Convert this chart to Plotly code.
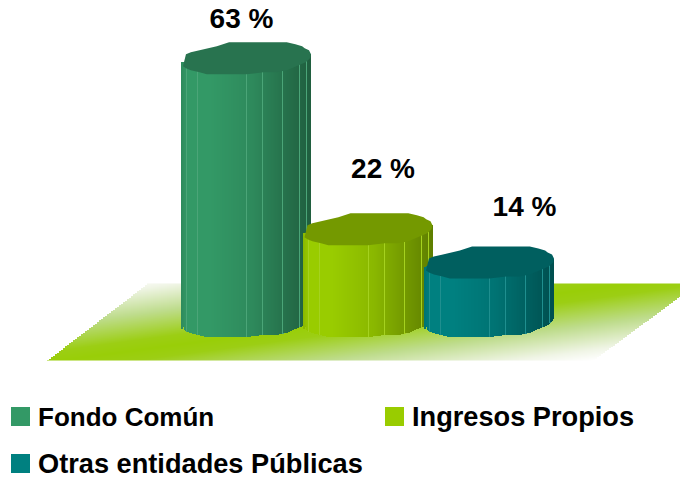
import numpy as np
import plotly.graph_objects as go

# ---- data ----
categories = ["Fondo Común", "Ingresos Propios", "Otras entidades Públicas"]
values = [63, 22, 14]
value_labels = ["63 %", "22 %", "14 %"]

# ---- styles ----
swatch_colors = ["#339966", "#99CC00", "#008080"]
cap_colors = ["#28734F", "#749900", "#005F5F"]
label_dx = [-5, 15, 35]
label_dy = [37, 58, 54]
legend_xy = [(11, 416.5), (385, 416.5), (11, 463.5)]
legend_sizes = [26, 27.2, 27.2]
edge_fracs = [-0.92, -0.74, 0.02, 0.26, 0.58, 0.83, 0.95]

W, H = 680, 479
X_ORIGIN, X_STEP = 246.5, 121.5   # pixels of category 0, pixels per category
Y_ZERO, Y_UNIT = 321.0, 4.17      # pixel of value 0, pixels per value unit
RX, RY, TILT = 64.5, 15.5, 4.0

def ux(px_offset):
    return np.asarray(px_offset, float) / X_STEP

def uy(px_offset):
    return np.asarray(px_offset, float) / Y_UNIT

def x_of_px(px):
    return (np.asarray(px, float) - X_ORIGIN) / X_STEP

def y_of_px(py):
    return (Y_ZERO - np.asarray(py, float)) / Y_UNIT

# faceted, slightly tilted ring in pixel offsets from the centre (y up)
theta = np.linspace(0, 2 * np.pi, 33)
ring_r = 1 + 0.04 * np.cos(7 * theta + 0.6)
cos_t, sin_t = np.cos(theta), np.sin(theta)
ring_x = RX * np.minimum(ring_r, 1.0) * np.sign(cos_t) * np.abs(cos_t) ** 0.8
ring_y = RY * ring_r * np.sign(sin_t) * np.abs(sin_t) ** 0.85 + TILT * cos_t
# quantise the ring so that its outline shows the flat facets of the original
ring_y = np.round(ring_y / 2.0) * 2.0

lower = theta >= np.pi
order = np.argsort(ring_x[lower])
lower_x, lower_y = ring_x[lower][order], ring_y[lower][order]

def shade(hex_color, k):
    r, g, b = [int(hex_color[i:i + 2], 16) for i in (1, 3, 5)]
    if k <= 1:
        return f"rgb({r*k:.0f},{g*k:.0f},{b*k:.0f})"
    return f"rgb({r+(255-r)*(k-1):.0f},{g+(255-g)*(k-1):.0f},{b+(255-b)*(k-1):.0f})"

fig = go.Figure()

# floor, a gradient heatmap under the bars
fx = np.arange(48, 682, 2.0)
fy = np.arange(284, 361, 1.0)
gx, gy = np.meshgrid(fx, fy)
band = 348 - (gx - 150) * 0.135
t = np.clip(np.abs(gy - band) / 72.0, 0, 1)
left = 147 - (gy - 284) * 98 / 75
right = 697 - (gy - 284) * 102 / 75
t[(gx < left) | (gx > right)] = np.nan
fig.add_trace(go.Heatmap(
    x=x_of_px(fx), y=y_of_px(fy), z=t, zmin=0, zmax=1, showscale=False, hoverinfo="skip",
    colorscale=[[0, "#99CE08"], [0.14, "#9CCE14"], [0.5, "#BEDC8C"], [0.85, "#F0F5E6"], [1, "#FFFFFF"]],
))

# cylinder bodies: one narrow bar per pixel column
xs_all = np.arange(-RX, RX, 1.0) + 0.5
for i, (name, v) in enumerate(zip(categories, values)):
    frac = xs_all / RX
    k = np.interp(frac, [-1, -0.9, -0.55, 0.1, 1], [0.9, 1.0, 1.0, 0.9, 0.62])
    colors = []
    for f, kk in zip(frac, k):
        hit = any(abs(f - e) * RX < 0.5 for e in edge_fracs)
        colors.append(shade(swatch_colors[i], 1.12 if hit else kk))
    base = uy(np.interp(xs_all, lower_x, lower_y))
    top = v + uy(TILT * frac)
    fig.add_trace(go.Bar(
        x=i + ux(xs_all), y=top - base, base=base, width=ux(1.05), name=name,
        marker=dict(color=colors, line=dict(width=0)), showlegend=False, hoverinfo="skip",
    ))

# cylinder caps
for i, v in enumerate(values):
    fig.add_trace(go.Scatter(
        x=i + ux(ring_x), y=v + uy(ring_y), mode="lines", fill="toself",
        fillcolor=cap_colors[i], line=dict(width=0), showlegend=False, hoverinfo="skip",
    ))

# value labels
fig.add_trace(go.Scatter(
    x=[i + float(ux(d)) for i, d in enumerate(label_dx)],
    y=[v + float(uy(d)) for v, d in zip(values, label_dy)],
    mode="text", text=value_labels, textposition="middle center",
    textfont=dict(family="Liberation Sans", size=28, color="#000000", weight="bold"),
    showlegend=False, hoverinfo="skip",
))

# legend drawn as squares and text
shapes, annotations = [], []
for name, color, (lx, ly), fs in zip(categories, swatch_colors, legend_xy, legend_sizes):
    shapes.append(dict(type="rect", xref="paper", yref="paper", layer="above",
                       x0=lx / W, x1=(lx + 19) / W,
                       y0=1 - (ly + 9.5) / H, y1=1 - (ly - 9.5) / H,
                       fillcolor=color, line=dict(width=0)))
    annotations.append(dict(xref="paper", yref="paper", x=(lx + 25) / W, y=1 - ly / H,
                            xanchor="left", yanchor="middle", showarrow=False, text=f"<b>{name}</b>",
                            font=dict(family="Liberation Sans", size=fs, color="#000000")))

fig.update_layout(
    width=W, height=H, autosize=False, margin=dict(l=0, r=0, t=0, b=0),
    paper_bgcolor="#FFFFFF", plot_bgcolor="rgba(0,0,0,0)", barmode="overlay", bargap=0,
    shapes=shapes, annotations=annotations,
    xaxis=dict(range=[-X_ORIGIN / X_STEP, (W - X_ORIGIN) / X_STEP], visible=False, fixedrange=True),
    yaxis=dict(range=[(Y_ZERO - H) / Y_UNIT, Y_ZERO / Y_UNIT], visible=False, fixedrange=True),
)
fig.write_html("out.html", config=dict(displayModeBar=False),
               post_script="document.body.style.margin='0';document.body.style.overflow='hidden';")
